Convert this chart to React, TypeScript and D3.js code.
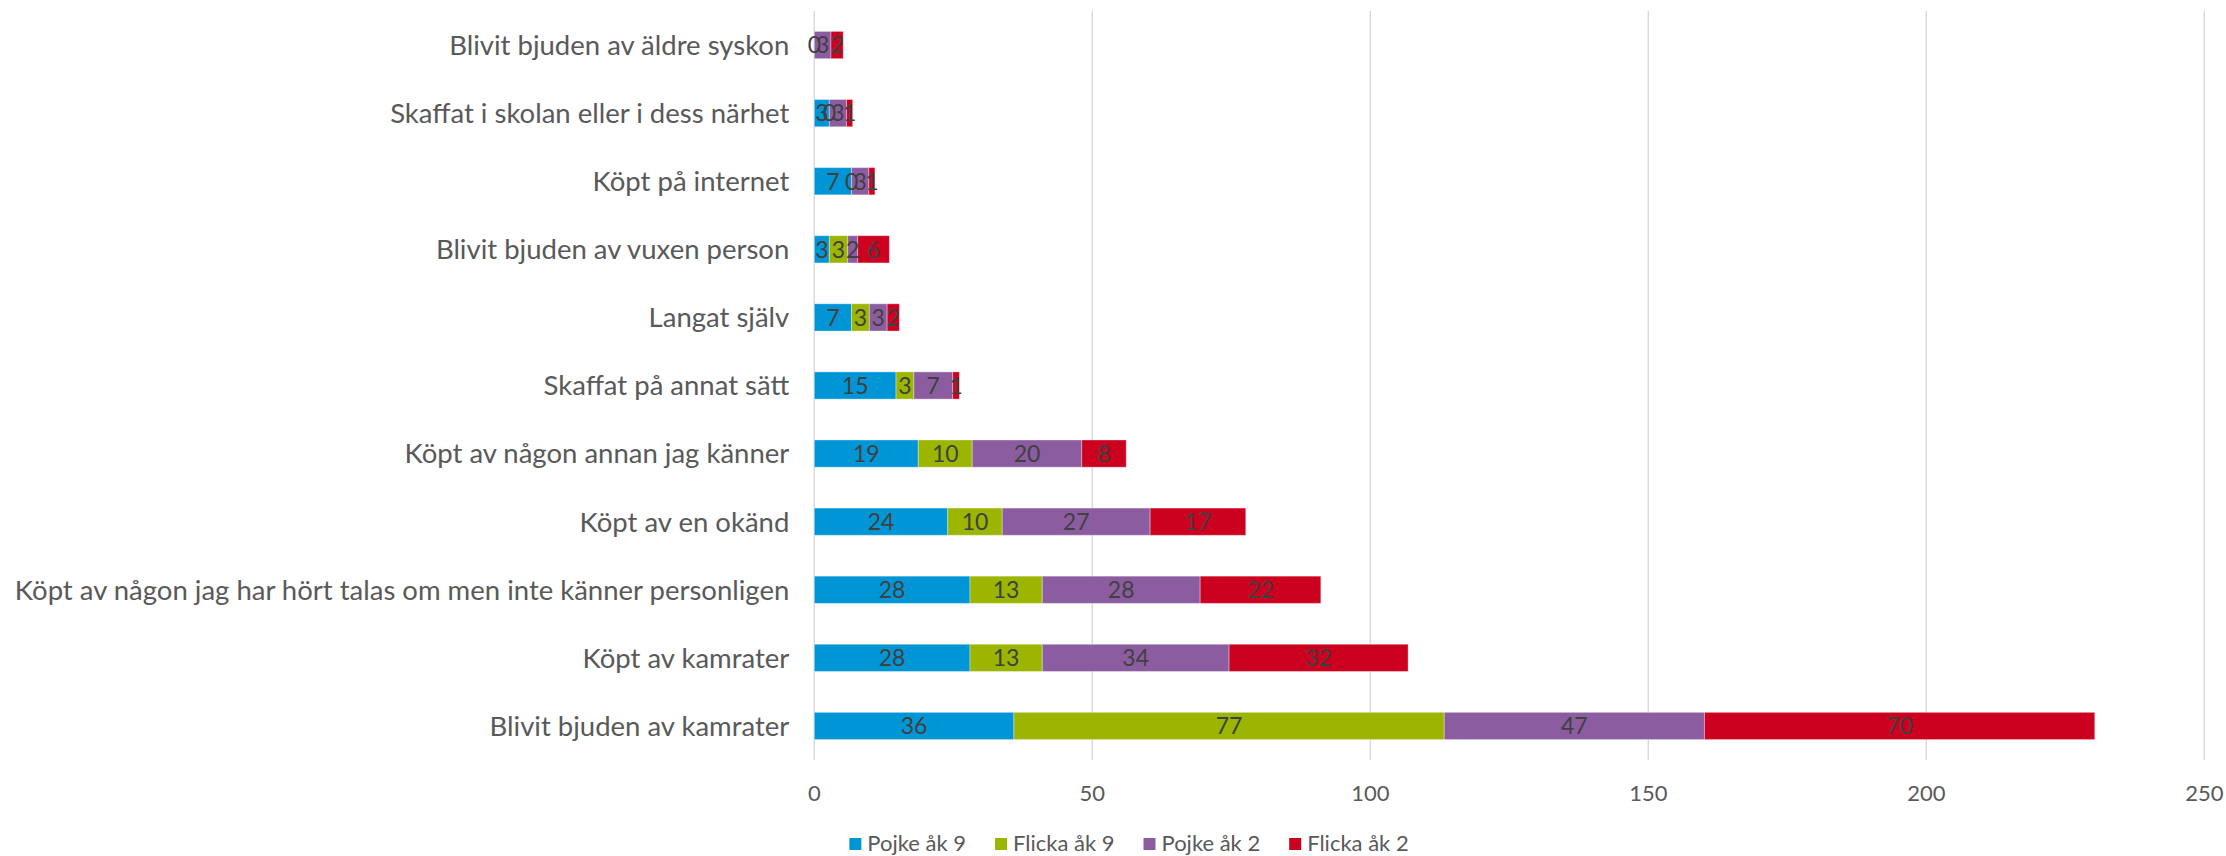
import React from "react";
import * as d3 from "d3";

const categories = [
  "Blivit bjuden av äldre syskon",
  "Skaffat i skolan eller i dess närhet",
  "Köpt på internet",
  "Blivit bjuden av vuxen person",
  "Langat själv",
  "Skaffat på annat sätt",
  "Köpt av någon annan jag känner",
  "Köpt av en okänd",
  "Köpt av någon jag har hört talas om men inte känner personligen",
  "Köpt av kamrater",
  "Blivit bjuden av kamrater",
];

const pojkeAk9: (number | null)[] = [null, 2.7, 6.7, 2.7, 6.7, 14.7, 18.7, 24.0, 28.0, 28.0, 35.9];
const flickaAk9: (number | null)[] = [0, 0, 0, 3.3, 3.2, 3.2, 9.7, 9.8, 13.0, 13.0, 77.4];
const pojkeAk2: (number | null)[] = [3.0, 3.1, 3.1, 1.8, 3.2, 7.0, 19.7, 26.6, 28.4, 33.6, 46.8];
const flickaAk2: (number | null)[] = [2.2, 1.1, 1.1, 5.7, 2.2, 1.2, 8.0, 17.2, 21.7, 32.2, 70.2];

const seriesNames = ["Pojke åk 9", "Flicka åk 9", "Pojke åk 2", "Flicka åk 2"];
const seriesValues = [pojkeAk9, flickaAk9, pojkeAk2, flickaAk2];
const seriesColors = ["#0096d6", "#9bb500", "#8c5ca0", "#cc001f"];

const xTicks = [0, 50, 100, 150, 200, 250];

const W = 2226;
const H = 856;
const FONT = "Lato, 'Open Sans', sans-serif";

function measure(text: string, size: number): number {
  const c = document.createElement("canvas");
  const ctx = c.getContext("2d");
  if (!ctx) return text.length * size * 0.5;
  ctx.font = `${size}px Lato`;
  return ctx.measureText(text).width;
}

export default function App() {
  const x = d3.scaleLinear().domain([0, 250]).range([814.3, 2204.3]);
  const y = d3
    .scaleBand<string>()
    .domain(categories)
    .range([11, 760])
    .paddingInner(0.6)
    .paddingOuter(0.3);

  const segments: { key: string; x0: number; x1: number; y: number; color: string; v: number }[] = [];
  categories.forEach((cat, i) => {
    let acc = 0;
    seriesValues.forEach((arr, s) => {
      const v = arr[i];
      if (v === null || v === undefined) return;
      segments.push({
        key: `${cat}-${s}`,
        x0: acc,
        x1: acc + v,
        y: y(cat) as number,
        color: seriesColors[s],
        v,
      });
      acc += v;
    });
  });

  const bw = y.bandwidth();

  // legend layout
  const legFont = 22;
  const sq = 12;
  const gapSqText = 6;
  const gapItems = 29;
  const widths = seriesNames.map((n) => measure(n, legFont));
  const total =
    widths.reduce((a, b) => a + b, 0) + seriesNames.length * (sq + gapSqText) + (seriesNames.length - 1) * gapItems;
  let lx = 1129 - total / 2;
  const legendItems = seriesNames.map((n, i) => {
    const item = { name: n, x: lx, color: seriesColors[i] };
    lx += sq + gapSqText + widths[i] + gapItems;
    return item;
  });

  return (
    <svg
      width={W}
      height={H}
      style={{ position: "absolute", left: 0, top: 0, background: "#fff" }}
      fontFamily={FONT}
    >
      {xTicks.map((t) => (
        <line key={`g${t}`} x1={x(t)} x2={x(t)} y1={11} y2={760} stroke="#d9d9d9" strokeWidth={1.5} />
      ))}
      {segments.map((s) => (
        <rect
          key={s.key}
          x={x(s.x0)}
          y={s.y}
          width={Math.max(0, x(s.x1) - x(s.x0))}
          height={bw}
          fill={s.color}
          stroke="#ffffff"
          strokeOpacity={0.35}
          strokeWidth={1}
        />
      ))}
      {segments.map((s) => (
        <text
          key={`l${s.key}`}
          x={(x(s.x0) + x(s.x1)) / 2}
          y={s.y + bw / 2}
          dy="0.36em"
          textAnchor="middle"
          fontSize={23}
          fill="#404040"
        >
          {Math.round(s.v)}
        </text>
      ))}
      {categories.map((c) => (
        <text
          key={`c${c}`}
          x={x(0) - 25}
          y={(y(c) as number) + bw / 2}
          dy="0.36em"
          textAnchor="end"
          fontSize={27.5}
          fill="#595959"
        >
          {c}
        </text>
      ))}
      {xTicks.map((t) => (
        <text key={`t${t}`} x={x(t)} y={800.5} textAnchor="middle" fontSize={22} fill="#595959">
          {t}
        </text>
      ))}
      {legendItems.map((it) => (
        <g key={`lg${it.name}`}>
          <rect x={it.x} y={838} width={sq} height={sq} fill={it.color} />
          <text x={it.x + sq + gapSqText} y={851} fontSize={legFont} fill="#595959">
            {it.name}
          </text>
        </g>
      ))}
    </svg>
  );
}
